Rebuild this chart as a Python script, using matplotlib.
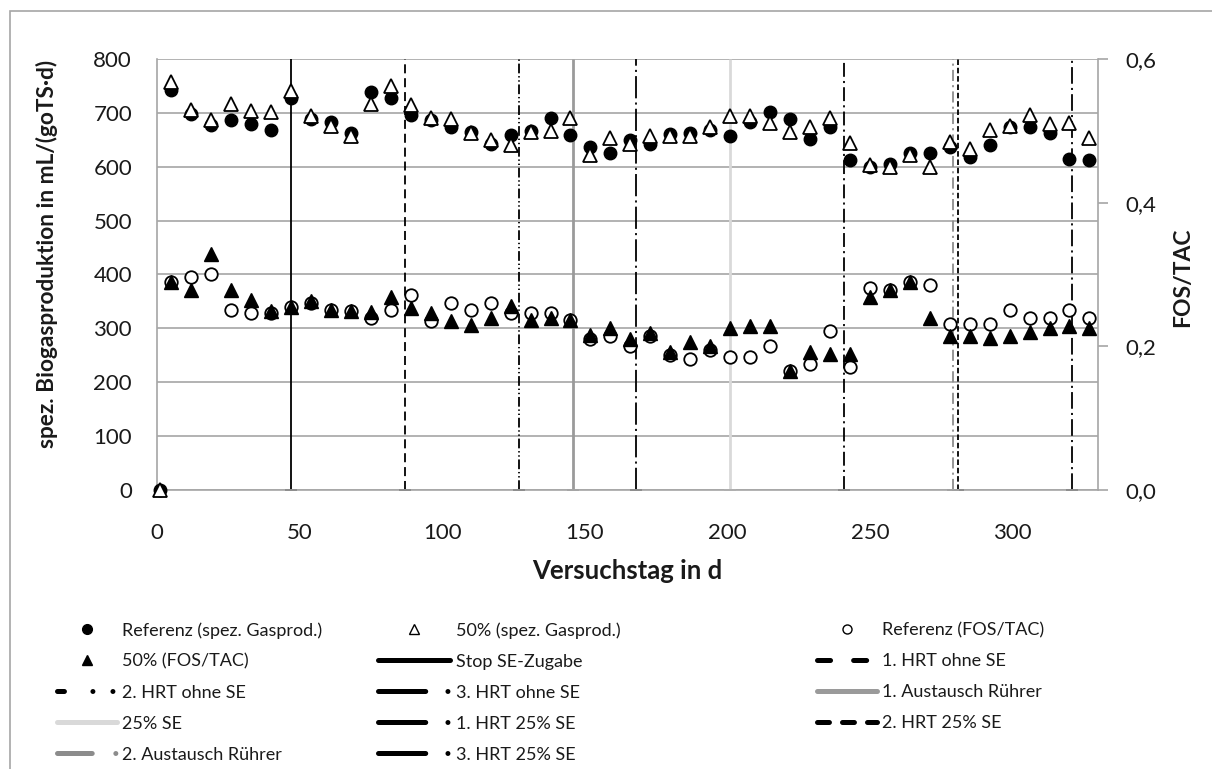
import matplotlib
matplotlib.use("Agg")
import matplotlib.pyplot as plt
from matplotlib.lines import Line2D
from matplotlib.patches import Rectangle
from matplotlib.ticker import FuncFormatter

plt.rcParams['font.family'] = ['Lato', 'DejaVu Sans']
plt.rcParams['lines.scale_dashes'] = False

# --- data ---------------------------------------------------------------
days_gas = [1, 5, 12, 19, 26, 33, 40, 47, 54, 61, 68, 75, 82, 89, 96, 103, 110,
            117, 124, 131, 138, 145, 152, 159, 166, 173, 180, 187, 194, 201,
            208, 215, 222, 229, 236, 243, 250, 257, 264, 271, 278, 285, 292,
            299, 306, 313, 320, 327]
ref_gas = [0, 742, 698, 677, 686, 680, 668, 727, 688, 683, 662, 739, 727, 696,
           686, 674, 665, 642, 659, 666, 691, 659, 637, 626, 650, 642, 660, 662,
           669, 657, 683, 702, 688, 652, 673, 612, 600, 606, 625, 626, 637, 619,
           640, 673, 674, 662, 615, 613]
p50_gas = [0, 757, 705, 686, 717, 703, 702, 741, 694, 675, 657, 717, 750, 714,
           690, 688, 662, 650, 640, 665, 667, 690, 622, 654, 643, 657, 657, 657,
           674, 694, 694, 681, 665, 674, 691, 644, 603, 600, 622, 599, 646, 633,
           668, 675, 696, 679, 681, 654]

days_fos = days_gas[1:]
ref_fos = [0.289, 0.296, 0.300, 0.250, 0.246, 0.246, 0.255, 0.260, 0.251, 0.249,
           0.240, 0.251, 0.272, 0.235, 0.261, 0.251, 0.261, 0.246, 0.247, 0.247,
           0.236, 0.210, 0.214, 0.200, 0.214, 0.188, 0.183, 0.195, 0.185, 0.185,
           0.200, 0.166, 0.175, 0.221, 0.171, 0.281, 0.279, 0.290, 0.286, 0.231,
           0.231, 0.231, 0.251, 0.240, 0.240, 0.251, 0.240]
p50_fos = [0.290, 0.279, 0.329, 0.279, 0.264, 0.249, 0.255, 0.263, 0.251, 0.249,
           0.248, 0.269, 0.254, 0.247, 0.235, 0.230, 0.239, 0.256, 0.236, 0.239,
           0.236, 0.216, 0.225, 0.210, 0.218, 0.192, 0.206, 0.200, 0.225, 0.228,
           0.228, 0.166, 0.192, 0.189, 0.190, 0.269, 0.279, 0.290, 0.239, 0.214,
           0.214, 0.211, 0.214, 0.220, 0.225, 0.228, 0.225]

# event lines
event_names = ["Stop SE-Zugabe", "1. HRT ohne SE", "2. HRT ohne SE",
               "3. HRT ohne SE", "1. Austausch Rührer", "25% SE",
               "1. HRT 25% SE", "2. HRT 25% SE", "2. Austausch Rührer",
               "3. HRT 25% SE"]
event_days = [47, 87, 127, 168, 146, 201, 241, 281, 279, 321]

# --- styles ---------------------------------------------------------------
GRID = '#a6a6a6'
TXT = '#1a1a1a'
styles = {
    "Stop SE-Zugabe":      dict(color='black', plot_ls='-', leg_ls='-'),
    "1. HRT ohne SE":      dict(color='black', plot_ls=(0, (6.5, 3.5)), leg_ls=(0, (9.4, 16.6))),
    "2. HRT ohne SE":      dict(color='black', plot_ls=(0, (7, 2, 1, 2, 1, 2)), leg_ls=(0, (5, 20.5, 0.01, 14.4, 0.01, 30))),
    "3. HRT ohne SE":      dict(color='black', plot_ls=(0, (16, 3, 1.5, 3)), leg_ls=(0, (34, 16, 0.01, 40))),
    "1. Austausch Rührer": dict(color='#9a9a9a', plot_ls='-', leg_ls='-'),
    "25% SE":              dict(color='#d9d9d9', plot_ls='-', leg_ls='-'),
    "1. HRT 25% SE":       dict(color='black', plot_ls=(0, (10, 3, 1.5, 3)), leg_ls=(0, (34, 16, 0.01, 40))),
    "2. HRT 25% SE":       dict(color='black', plot_ls=(0, (4, 2)), leg_ls=(0, (8.6, 9.4))),
    "2. Austausch Rührer": dict(color='#8c8c8c', plot_ls=(0, (8, 3, 1.5, 3)), leg_ls=(0, (25, 17, 0.01, 40))),
    "3. HRT 25% SE":       dict(color='black', plot_ls=(0, (12, 3, 1.5, 3)), leg_ls=(0, (34, 16, 0.01, 40))),
}

fig = plt.figure(figsize=(12.12, 7.69), dpi=100)
fig.patches.append(Rectangle((10 / 1212, -0.1), 1.2, 1 - 11 / 769 + 0.1,
                             transform=fig.transFigure, fill=False,
                             edgecolor='#a6a6a6', lw=1.2))

ax = fig.add_axes([157 / 1212, 1 - 490 / 769, (1098 - 157) / 1212, (490 - 59) / 769])
ax2 = ax.twinx()

ax.set_xlim(0, 330)
ax.set_ylim(0, 800)
ax2.set_ylim(0, 0.6)

ax.set_yticks(range(0, 801, 100))
ax.set_xticks(range(0, 301, 50))
ax2.set_yticks([0, 0.2, 0.4, 0.6])
ax2.yaxis.set_major_formatter(FuncFormatter(lambda v, p: f"{v:.1f}".replace('.', ',')))

ax.grid(axis='y', color=GRID, lw=1.2)
ax.set_axisbelow(True)
for s in ['top', 'right']:
    ax.spines[s].set_visible(False)
for s in ['top', 'left', 'bottom']:
    ax2.spines[s].set_visible(False)
for sp in [ax.spines['left'], ax.spines['bottom'], ax2.spines['right']]:
    sp.set_color(GRID)
    sp.set_linewidth(1.2)

ax.tick_params(axis='both', length=0, labelsize=16, colors=TXT)
ax.tick_params(axis='y', pad=18)
ax.tick_params(axis='x', pad=24)
ax2.tick_params(axis='y', length=7, width=1.2, color=GRID, labelsize=16,
                labelcolor=TXT, pad=13)

# event lines (drawn like error bars with a cap at the bottom)
for name, d in zip(event_names, event_days):
    st = styles[name]
    lw = 2.0 if name in ("1. Austausch Rührer", "25% SE") else 1.3
    ax.vlines(d, 0, 800, colors=st['color'], linestyles=st['plot_ls'], lw=lw, zorder=2)
    ax.plot(d, 0, marker='_', ms=8, mew=1.3, color=st['color'], zorder=2, clip_on=False)

# scatter series
ax.plot(days_gas, ref_gas, 'o', ms=9, color='black', zorder=3, clip_on=False)
ax.plot(days_gas, p50_gas, '^', ms=9.5, mfc='white', mec='black', mew=1.3, zorder=4, clip_on=False)
ax2.plot(days_fos, ref_fos, 'o', ms=9, mfc='white', mec='black', mew=1.3, zorder=3)
ax2.plot(days_fos, p50_fos, '^', ms=9.5, color='black', zorder=4)

# axis titles
fig.text(47 / 1212, 1 - 254 / 769, "spez. Biogasproduktion in mL/(goTS·d)",
         rotation=90, ha='center', va='center', fontsize=16.3, weight='bold', color=TXT)
fig.text(1183 / 1212, 1 - 277 / 769, "FOS/TAC", rotation=90, ha='center',
         va='center', fontsize=16.5, weight='bold', color=TXT)
fig.text(627 / 1212, 1 - 571 / 769, "Versuchstag in d", ha='center', va='center',
         fontsize=18.5, weight='bold', color=TXT)

# legend, built as three columns
def line_handle(name):
    st = styles[name]
    return Line2D([], [], color=st['color'], ls=st['leg_ls'], lw=3.6,
                  dash_capstyle='round', solid_capstyle='round')

mk = {
    "Referenz (spez. Gasprod.)": Line2D([], [], ls='none', marker='o', ms=7, color='black'),
    "50% (spez. Gasprod.)": Line2D([], [], ls='none', marker='^', ms=6.5, mfc='white', mec='black', mew=1),
    "Referenz (FOS/TAC)": Line2D([], [], ls='none', marker='o', ms=6.5, mfc='white', mec='black', mew=1),
    "50% (FOS/TAC)": Line2D([], [], ls='none', marker='^', ms=7, color='black'),
}

columns = [
    (57, 3.3, ["Referenz (spez. Gasprod.)", "50% (FOS/TAC)", "2. HRT ohne SE", "25% SE", "2. Austausch Rührer"]),
    (378, 4.0, ["50% (spez. Gasprod.)", "Stop SE-Zugabe", "3. HRT ohne SE", "1. HRT 25% SE", "3. HRT 25% SE"]),
    (817, 3.3, ["Referenz (FOS/TAC)", "1. HRT ohne SE", "1. Austausch Rührer", "2. HRT 25% SE"]),
]
for x0, hl, names in columns:
    handles = [mk[n] if n in mk else line_handle(n) for n in names]
    leg = fig.legend(handles, names, loc='upper left',
                     bbox_to_anchor=(x0 / 1212, 1 - 622 / 769),
                     frameon=False, fontsize=13, handlelength=hl,
                     handletextpad=0.3, labelspacing=0.83, borderpad=0,
                     borderaxespad=0, numpoints=1)
    for t in leg.get_texts():
        t.set_color(TXT)

fig.savefig("out.png", dpi=100)
